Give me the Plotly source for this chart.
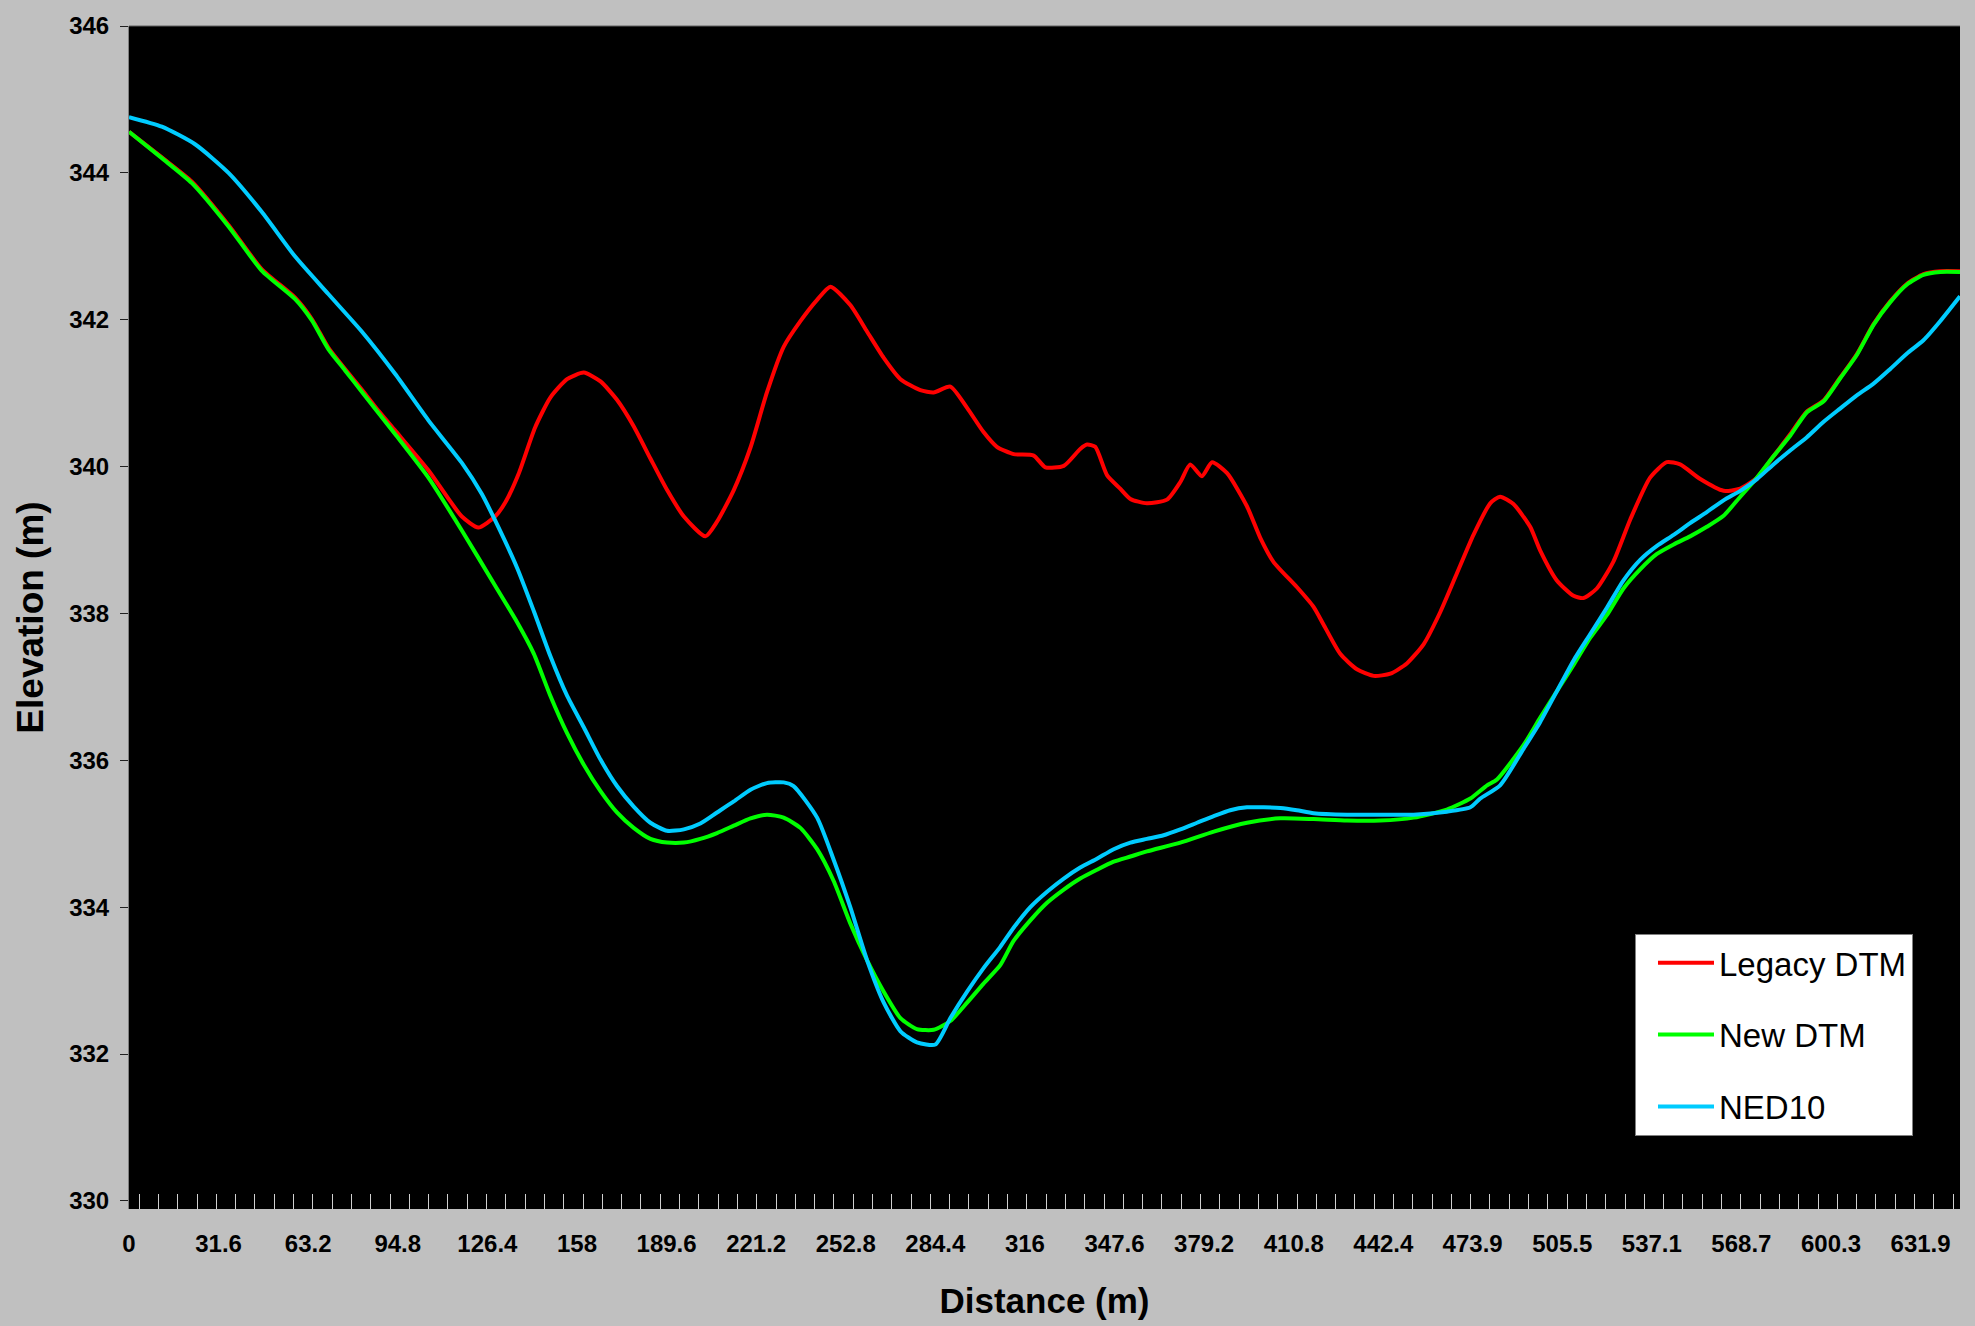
import plotly.graph_objects as go

# ---- Elevation profile samples: distance along the transect (m) and elevation (m) ----
legacy_dist = [0, 11.6, 22.2, 35.1, 46.8, 58.6, 64.5, 70.3, 76.2, 82.1, 88.0, 93.9, 105.6,
               112.7, 117.4, 123.2, 129.1, 132.7, 137.4, 143.2, 148.6, 154.5, 160.4, 166.3,
               172.1, 178.0, 183.9, 189.8, 195.7, 203.3, 207.4, 213.3, 219.2, 225.0, 230.9,
               236.8, 242.7, 247.4, 254.4, 260.3, 266.2, 272.1, 279.1, 283.8, 289.7, 295.6,
               301.4, 306.1, 312.0, 319.1, 323.2, 329.7, 335.5, 337.9, 340.8, 345.0, 349.6,
               353.2, 359.0, 366.1, 370.8, 374.3, 378.4, 382.0, 387.3, 394.3, 399.0, 403.7,
               411.9, 417.8, 421.3, 427.2, 433.1, 439.0, 444.9, 450.7, 456.6, 462.5, 468.4,
               474.2, 480.1, 483.6, 488.3, 494.2, 497.7, 503.6, 509.5, 513.0, 517.7, 523.6,
               529.5, 536.5, 542.4, 547.1, 554.2, 562.4, 568.3, 574.2, 580.0, 585.9, 591.8,
               597.7, 603.5, 609.4, 615.3, 621.2, 627.1, 632.9, 638.8, 645.8]
legacy_elev = [344.56, 344.21, 343.88, 343.29, 342.69, 342.30, 342.01, 341.62, 341.33, 341.05,
               340.76, 340.49, 339.95, 339.56, 339.32, 339.17, 339.32, 339.51, 339.90, 340.53,
               340.94, 341.19, 341.28, 341.16, 340.91, 340.55, 340.11, 339.68, 339.32, 339.05,
               339.25, 339.68, 340.26, 341.01, 341.63, 341.98, 342.27, 342.45, 342.20, 341.84,
               341.48, 341.19, 341.04, 341.01, 341.09, 340.80, 340.47, 340.27, 340.17, 340.15,
               339.99, 340.01, 340.24, 340.30, 340.27, 339.88, 339.70, 339.56, 339.50, 339.55,
               339.79, 340.03, 339.87, 340.06, 339.91, 339.46, 339.03, 338.70, 338.36, 338.09,
               337.85, 337.45, 337.24, 337.15, 337.18, 337.32, 337.58, 338.02, 338.55, 339.07,
               339.50, 339.59, 339.49, 339.18, 338.86, 338.45, 338.24, 338.21, 338.34, 338.71,
               339.28, 339.85, 340.06, 340.03, 339.83, 339.67, 339.70, 339.85, 340.14, 340.44,
               340.75, 340.90, 341.21, 341.53, 341.94, 342.25, 342.49, 342.62, 342.66, 342.66]

new_dist = [0, 11.6, 22.2, 35.1, 46.8, 58.6, 64.5, 70.3, 76.2, 82.1, 93.9, 105.6, 117.4,
            129.1, 136.9, 142.8, 148.6, 154.5, 160.4, 166.3, 172.1, 178.0, 183.9, 189.8,
            195.7, 201.5, 207.4, 213.3, 219.2, 225.0, 230.9, 236.8, 242.7, 248.5, 254.4,
            260.3, 266.2, 272.1, 277.9, 283.8, 289.7, 295.6, 301.4, 307.3, 312.0, 317.9,
            323.8, 329.7, 335.5, 341.4, 347.3, 353.2, 359.0, 370.8, 382.6, 394.3, 406.1,
            417.8, 429.6, 441.3, 453.1, 464.8, 473.1, 479.0, 482.5, 491.9, 497.7, 503.6,
            509.5, 515.4, 521.3, 527.1, 533.0, 538.9, 544.8, 550.6, 556.5, 562.4, 568.3,
            574.2, 580.0, 585.9, 591.8, 597.7, 603.5, 609.4, 615.3, 621.2, 627.1, 632.9,
            638.8, 645.8]
new_elev = [344.56, 344.20, 343.86, 343.27, 342.67, 342.28, 341.99, 341.60, 341.31, 341.02,
            340.44, 339.85, 339.13, 338.38, 337.88, 337.45, 336.88, 336.37, 335.94, 335.58,
            335.29, 335.08, 334.93, 334.88, 334.88, 334.93, 335.01, 335.11, 335.21, 335.26,
            335.22, 335.08, 334.79, 334.36, 333.78, 333.28, 332.85, 332.49, 332.34, 332.33,
            332.45, 332.70, 332.96, 333.21, 333.54, 333.82, 334.06, 334.24, 334.39, 334.51,
            334.62, 334.69, 334.76, 334.88, 335.03, 335.15, 335.21, 335.20, 335.18, 335.18,
            335.22, 335.33, 335.48, 335.66, 335.74, 336.21, 336.58, 336.94, 337.30, 337.67,
            337.98, 338.34, 338.60, 338.81, 338.94, 339.05, 339.18, 339.33, 339.59, 339.85,
            340.14, 340.42, 340.74, 340.89, 341.20, 341.52, 341.93, 342.24, 342.48, 342.61,
            342.65, 342.65]

ned_dist = [0, 11.6, 23.3, 35.1, 46.8, 58.6, 70.3, 82.1, 93.9, 105.6, 117.4, 124.4, 129.1,
            136.9, 142.8, 148.6, 154.5, 160.4, 166.3, 172.1, 178.0, 183.9, 189.8, 195.7,
            201.5, 207.4, 213.3, 219.2, 225.0, 230.9, 234.4, 242.7, 248.5, 254.4, 260.3,
            266.2, 272.1, 277.9, 284.4, 289.7, 295.6, 301.4, 307.3, 312.0, 317.9, 323.8,
            329.7, 335.5, 341.4, 347.3, 353.2, 359.0, 364.9, 370.8, 376.7, 382.6, 388.4,
            394.3, 400.2, 406.1, 411.9, 417.8, 429.6, 441.3, 453.1, 464.8, 473.1, 476.6,
            483.6, 491.9, 497.7, 503.6, 509.5, 515.4, 521.3, 527.1, 533.0, 538.9, 544.8,
            550.6, 556.5, 562.4, 568.3, 574.2, 580.0, 585.9, 591.8, 597.7, 603.5, 609.4,
            615.3, 621.2, 627.1, 632.9, 638.8, 645.8]
ned_elev = [344.76, 344.63, 344.39, 344.00, 343.47, 342.86, 342.35, 341.84, 341.26, 340.63,
            340.05, 339.63, 339.27, 338.62, 338.03, 337.42, 336.88, 336.45, 336.01, 335.65,
            335.37, 335.15, 335.04, 335.06, 335.14, 335.29, 335.44, 335.60, 335.69, 335.70,
            335.65, 335.22, 334.65, 334.00, 333.28, 332.70, 332.31, 332.16, 332.13, 332.49,
            332.85, 333.17, 333.46, 333.72, 334.00, 334.21, 334.39, 334.54, 334.66, 334.79,
            334.88, 334.93, 334.98, 335.06, 335.15, 335.24, 335.32, 335.36, 335.36, 335.35,
            335.32, 335.28, 335.26, 335.26, 335.26, 335.30, 335.36, 335.48, 335.66, 336.16,
            336.52, 336.94, 337.36, 337.72, 338.08, 338.45, 338.73, 338.92, 339.07, 339.23,
            339.38, 339.54, 339.67, 339.83, 340.03, 340.22, 340.40, 340.61, 340.79, 340.97,
            341.13, 341.33, 341.54, 341.72, 341.98, 342.32]

# ---- Axis tick labels ----
distance_ticks = [0, 31.6, 63.2, 94.8, 126.4, 158, 189.6, 221.2, 252.8, 284.4, 316, 347.6,
                  379.2, 410.8, 442.4, 473.9, 505.5, 537.1, 568.7, 600.3, 631.9]
distance_labels = ["0", "31.6", "63.2", "94.8", "126.4", "158", "189.6", "221.2", "252.8",
                   "284.4", "316", "347.6", "379.2", "410.8", "442.4", "473.9", "505.5",
                   "537.1", "568.7", "600.3", "631.9"]
elevation_ticks = [330, 332, 334, 336, 338, 340, 342, 344, 346]

FONT = "Liberation Sans, Arial, sans-serif"

series = [
    ("Legacy DTM", legacy_dist, legacy_elev, "#FF0000"),
    ("New DTM", new_dist, new_elev, "#00FF00"),
    ("NED10", ned_dist, ned_elev, "#00CCFF"),
]

fig = go.Figure()
for name, xs, ys, color in series:
    fig.add_trace(go.Scatter(
        x=xs, y=ys, name=name, mode="lines", legendgroup=name,
        line=dict(color=color, width=4, shape="spline", smoothing=0.6),
    ))

fig.update_layout(
    width=1975, height=1326,
    margin=dict(l=129, r=15, t=23, b=117),
    paper_bgcolor="#C0C0C0",
    plot_bgcolor="#000000",
    font=dict(family=FONT, color="#000000"),
    legend=dict(
        x=0.8225, y=0.2327, xanchor="left", yanchor="top",
        bgcolor="#FFFFFF", bordercolor="#808080", borderwidth=1,
        font=dict(family=FONT, size=33, color="#000000"),
        tracegroupgap=26, itemwidth=56, indentation=17,
    ),
    xaxis=dict(
        range=[0, 645.8], showgrid=False, zeroline=False,
        showline=False,
        tickmode="array", tickvals=distance_ticks, ticktext=distance_labels,
        ticks="", ticklabelstandoff=18,
        tickfont=dict(family=FONT, size=24, weight="bold", color="#000000"),
        minor=dict(ticks="inside", ticklen=15, tickcolor="#D0D0D0", tickwidth=1,
                   tickmode="linear", tick0=3.6, dtick=6.806, showgrid=False),
        title=dict(text="Distance (m)", standoff=32,
                   font=dict(family=FONT, size=35, weight="bold", color="#000000")),
    ),
    yaxis=dict(
        range=[329.89, 346], showgrid=False, zeroline=False,
        showline=True, linecolor="#808080", linewidth=1,
        tickmode="array", tickvals=elevation_ticks,
        ticks="outside", ticklen=8, tickcolor="#202020", tickwidth=1,
        ticklabelstandoff=6,
        tickfont=dict(family=FONT, size=24, weight="bold", color="#000000"),
        title=dict(text="Elevation (m)", standoff=14,
                   font=dict(family=FONT, size=37, weight="bold", color="#000000")),
    ),
    shapes=[dict(type="line", xref="paper", yref="paper", x0=0, x1=1, y0=1, y1=1,
                 line=dict(color="#606060", width=1))],
)

fig.write_html("out.html")
